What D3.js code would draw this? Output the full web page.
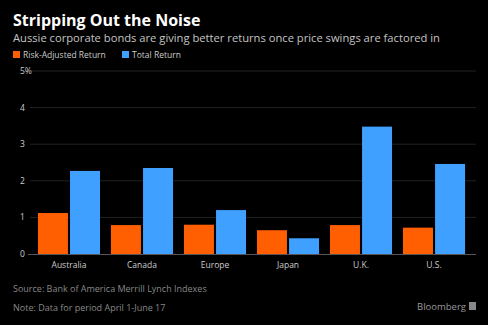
<!DOCTYPE html>
<meta charset="utf-8">
<html>
<style>
  body { margin: 0; background: #000; }
  text { font-family: "Open Sans", "DejaVu Sans", sans-serif; }
</style>
<div id="chart"></div>
<script src="https://d3js.org/d3.v7.min.js"></script>
<script>
var countries = ["Australia", "Canada", "Europe", "Japan", "U.K.", "U.S."];
var riskAdjusted = [1.12, 0.79, 0.8, 0.65, 0.79, 0.72];
var totalReturn = [2.27, 2.35, 1.2, 0.43, 3.48, 2.46];
var seriesNames = ["Risk-Adjusted Return", "Total Return"];
var yTicks = [0, 1, 2, 3, 4, 5];

var W = 488, H = 325;
var svg = d3.select("#chart").append("svg")
  .attr("width", W).attr("height", H)
  .style("background", "#000");

var colors = ["#ff5f00", "#3fa0ff"];
var margin = {left: 30, right: 12, top: 71, bottom: 71};

var x = d3.scaleBand().domain(countries)
  .range([27, 476]).paddingInner(0.15).paddingOuter(0.15);
var xs = d3.scaleBand().domain([0, 1]).range([0, x.bandwidth()]).paddingInner(0.065);
var y = d3.scaleLinear().domain([0, 5]).range([H - margin.bottom, margin.top]);

// titles
svg.append("text").attr("x", 13).attr("y", 26)
  .attr("fill", "#fff").style("font-size", "16px").style("font-weight", "bold")
  .text("Stripping Out the Noise");
svg.append("text").attr("x", 13).attr("y", 42)
  .attr("fill", "#c4c4c4").style("font-size", "11.2px")
  .text("Aussie corporate bonds are giving better returns once price swings are factored in");

// legend
var lx = [13, 122];
seriesNames.forEach(function (s, i) {
  svg.append("rect").attr("x", lx[i]).attr("y", 51).attr("width", 7).attr("height", 7)
    .attr("fill", colors[i]);
  svg.append("text").attr("x", lx[i] + 10).attr("y", 58)
    .attr("fill", "#ccc").style("font-size", "8.5px").text(s);
});

// grid
svg.append("g").selectAll("line").data(yTicks.slice(1)).enter().append("line")
  .attr("x1", margin.left).attr("x2", W - margin.right)
  .attr("y1", function (d) { return y(d); }).attr("y2", function (d) { return y(d); })
  .attr("stroke", "#222").attr("stroke-width", 1);

svg.append("g").selectAll("text").data(yTicks).enter().append("text")
  .attr("x", 20).attr("y", function (d) { return y(d) + 3; })
  .attr("fill", "#ccc").style("font-size", "8.5px")
  .text(function (d) { return d === 5 ? "5%" : d; });

// bars
var data = countries.map(function (c, i) { return {c: c, v: [riskAdjusted[i], totalReturn[i]]}; });
var g = svg.append("g").selectAll("g").data(data).enter().append("g")
  .attr("transform", function (d) { return "translate(" + x(d.c) + ",0)"; });
g.selectAll("rect").data(function (d) { return d.v; }).enter().append("rect")
  .attr("x", function (d, i) { return xs(i); })
  .attr("width", xs.bandwidth())
  .attr("y", function (d) { return y(d); })
  .attr("height", function (d) { return y(0) - y(d); })
  .attr("fill", function (d, i) { return colors[i]; });

// baseline
svg.append("line").attr("x1", margin.left - 2).attr("x2", W - margin.right)
  .attr("y1", y(0) + 0.5).attr("y2", y(0) + 0.5).attr("stroke", "#555");

svg.append("g").selectAll("text").data(countries).enter().append("text")
  .attr("x", function (d) { return x(d) + x.bandwidth() / 2; })
  .attr("y", 268).attr("text-anchor", "middle")
  .attr("fill", "#ccc").style("font-size", "8.5px")
  .text(function (d) { return d; });

// footer
svg.append("text").attr("x", 13).attr("y", 292).attr("fill", "#888")
  .style("font-size", "9px").text("Source: Bank of America Merrill Lynch Indexes");
svg.append("text").attr("x", 13).attr("y", 311).attr("fill", "#888")
  .style("font-size", "9px").text("Note: Data for period April 1-June 17");
svg.append("text").attr("x", 466).attr("y", 310).attr("text-anchor", "end").attr("fill", "#999")
  .style("font-size", "9.5px").text("Bloomberg");
svg.append("rect").attr("x", 469).attr("y", 302).attr("width", 7).attr("height", 8).attr("fill", "#888");
</script>
</html>
